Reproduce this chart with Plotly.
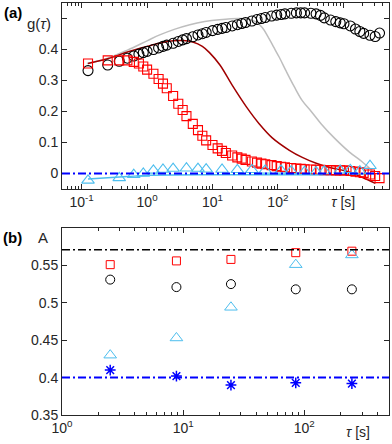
import plotly.graph_objects as go

# ---- panel (a): correlation curves g(tau) ----
tau_a = [0.125, 0.25, 0.375, 0.5, 0.625, 0.75, 0.875, 1, 1.25, 1.5, 1.75, 2, 2.5, 3, 3.5, 4,
         5, 6, 7, 8, 10, 12, 14, 16, 20, 24, 28, 32, 40, 48, 56, 64, 80, 96, 112, 128,
         160, 192, 224, 256, 320, 384, 448, 512, 640, 768, 896, 1024, 1280, 1536, 1792,
         2048, 2560, 3072, 3584]
g_circ = [0.332, 0.350, 0.362, 0.372, 0.379, 0.385, 0.390, 0.394, 0.400, 0.405, 0.410, 0.414,
          0.420, 0.426, 0.431, 0.435, 0.441, 0.447, 0.451, 0.455, 0.461, 0.465, 0.468, 0.471,
          0.476, 0.480, 0.484, 0.487, 0.492, 0.497, 0.500, 0.503, 0.508, 0.511, 0.513, 0.515,
          0.517, 0.518, 0.518, 0.518, 0.517, 0.515, 0.510, 0.502, 0.495, 0.490, 0.486, 0.483,
          0.476, 0.466, 0.458, 0.452, 0.446, 0.442, 0.453]
g_sq = [0.355, 0.365, 0.365, 0.365, 0.360, 0.355, 0.345, 0.335, 0.322, 0.305, 0.290, 0.275,
        0.250, 0.225, 0.205, 0.185, 0.160, 0.140, 0.122, 0.107, 0.092, 0.081, 0.073, 0.066,
        0.058, 0.052, 0.048, 0.044, 0.039, 0.035, 0.032, 0.030, 0.027, 0.024, 0.022, 0.020,
        0.018, 0.016, 0.015, 0.014, 0.013, 0.012, 0.012, 0.011, 0.011, 0.010, 0.010, 0.010,
        0.008, 0.006, 0.004, 0.002, -0.003, -0.008, -0.015]

tau_tri = [0.125, 0.375, 0.625, 0.875, 1.25, 1.75, 2.5, 4, 6, 8, 14, 24, 40, 64, 112, 160,
           256, 384, 512, 896, 1280, 1792, 2560]
g_tri = [-0.022, -0.014, -0.004, 0.0, 0.010, 0.013, 0.016, 0.017, 0.016, 0.014, 0.013, 0.012,
         0.012, 0.010, 0.010, 0.008, 0.006, 0.005, 0.008, 0.010, 0.012, 0.008, 0.025]

tau_fit_red = [0.125, 0.25, 0.5, 1, 1.6, 2.5, 3.5, 5, 7, 9, 13, 20, 33, 52, 82, 150, 236,
               385, 600, 1100, 1940, 3100]
fit_red = [0.355, 0.370, 0.392, 0.410, 0.421, 0.428, 0.429, 0.424, 0.410, 0.390, 0.350,
           0.285, 0.215, 0.160, 0.115, 0.075, 0.052, 0.033, 0.020, 0.008, -0.012, -0.032]

tau_fit_gray = [0.12, 0.25, 0.5, 1.0, 1.56, 2.6, 4.5, 7.6, 12.8, 26, 37, 47, 58, 69, 85, 105,
                134, 178, 236, 324, 460, 727, 1230, 1940, 2760]
fit_gray = [0.355, 0.372, 0.398, 0.428, 0.447, 0.465, 0.480, 0.490, 0.496, 0.500, 0.497,
            0.488, 0.470, 0.445, 0.410, 0.375, 0.330, 0.280, 0.235, 0.200, 0.160, 0.115,
            0.070, 0.038, 0.010]

tau_fit_cyan = [0.125, 0.5, 1, 10, 100, 1000, 3072]
fit_cyan = [-0.018, -0.010, -0.006, -0.004, -0.004, -0.003, 0.0]

g_zero = 0.0

# ---- panel (b): amplitudes A ----
tau_b = [2.5, 8.8, 24.8, 85, 247]
A_sq = [0.551, 0.556, 0.558, 0.567, 0.569]
A_circ = [0.531, 0.521, 0.525, 0.518, 0.518]
A_tri = [0.430, 0.453, 0.494, 0.551, 0.564]
A_star = [0.410, 0.402, 0.390, 0.393, 0.392]
A_top = 0.571
A_low = 0.4

RED = "#FF0000"
DARKRED = "#A00000"
GRAY = "#BEBEBE"
CYAN = "#4DBEEE"
BLUE = "#0000FF"
AX = "#262626"
FONT = "Liberation Sans, Arial, sans-serif"
DASHDOT = "8px,3px,2px,3px"

fig = go.Figure()

# fits
fig.add_trace(go.Scatter(x=tau_fit_gray, y=fit_gray, mode="lines", line=dict(color=GRAY, width=1.5, shape="spline"),
                         xaxis="x", yaxis="y"))
fig.add_trace(go.Scatter(x=tau_fit_red, y=fit_red, mode="lines", line=dict(color=DARKRED, width=1.5, shape="spline"),
                         xaxis="x", yaxis="y"))
fig.add_trace(go.Scatter(x=tau_fit_cyan, y=fit_cyan, mode="lines", line=dict(color=CYAN, width=1.5, shape="spline"),
                         xaxis="x", yaxis="y"))
# data
fig.add_trace(go.Scatter(x=tau_a, y=g_circ, mode="markers",
                         marker=dict(symbol="circle-open", size=10, color="black", line=dict(width=1.1)),
                         xaxis="x", yaxis="y"))
fig.add_trace(go.Scatter(x=tau_a, y=g_sq, mode="markers",
                         marker=dict(symbol="square-open", size=9, color=RED, line=dict(width=1.1)),
                         xaxis="x", yaxis="y"))
fig.add_trace(go.Scatter(x=tau_tri, y=g_tri, mode="markers",
                         marker=dict(symbol="triangle-up-open", size=11, color=CYAN, line=dict(width=1.1)),
                         xaxis="x", yaxis="y"))

# panel b
fig.add_trace(go.Scatter(x=tau_b, y=A_sq, mode="markers",
                         marker=dict(symbol="square-open", size=8, color=RED, line=dict(width=1)),
                         xaxis="x2", yaxis="y2"))
fig.add_trace(go.Scatter(x=tau_b, y=A_circ, mode="markers",
                         marker=dict(symbol="circle-open", size=9, color="black", line=dict(width=1)),
                         xaxis="x2", yaxis="y2"))
fig.add_trace(go.Scatter(x=tau_b, y=A_tri, mode="markers",
                         marker=dict(symbol="triangle-up-open", size=11, color=CYAN, line=dict(width=1)),
                         xaxis="x2", yaxis="y2"))
fig.add_trace(go.Scatter(x=tau_b, y=A_star, mode="markers",
                         marker=dict(symbol="asterisk-open", size=9, color=BLUE, line=dict(width=1.5, color=BLUE)),
                         xaxis="x2", yaxis="y2"))

# horizontal reference lines
fig.add_shape(type="line", xref="x domain", yref="y", x0=0, x1=1, y0=g_zero, y1=g_zero,
              line=dict(color=BLUE, width=2, dash=DASHDOT), layer="above")
fig.add_shape(type="line", xref="x2 domain", yref="y2", x0=0, x1=1, y0=A_top, y1=A_top,
              line=dict(color="black", width=1.5, dash=DASHDOT), layer="above")
fig.add_shape(type="line", xref="x2 domain", yref="y2", x0=0, x1=1, y0=A_low, y1=A_low,
              line=dict(color=BLUE, width=2, dash=DASHDOT), layer="above")

minor_a = [m * 10.0 ** d for d in range(-2, 4) for m in range(2, 10) if 0.05 <= m * 10.0 ** d <= 5000]
minor_b = [m * 10.0 ** d for d in range(0, 3) for m in range(2, 10) if m * 10.0 ** d <= 500]

axis_common = dict(showline=True, linecolor=AX, linewidth=1, mirror="allticks", ticks="inside",
                   ticklen=5, tickcolor=AX, showgrid=False, zeroline=False,
                   tickfont=dict(size=14, color=AX, family=FONT))

fig.update_layout(
    width=392, height=444,
    margin=dict(l=62, r=3, t=3, b=29),
    paper_bgcolor="white", plot_bgcolor="white",
    showlegend=False,
    font=dict(family=FONT, color=AX),
    xaxis=dict(type="log", range=[-1.301, 3.699], domain=[0, 1], anchor="y",
               tickvals=[0.1, 1, 10, 100, 1000],
               ticktext=["10<sup>-1</sup>", "10<sup>0</sup>", "10<sup>1</sup>", "10<sup>2</sup>", "<i>τ</i> [s]"],
               minor=dict(tickvals=minor_a, ticks="inside", ticklen=3, tickcolor=AX, showgrid=False),
               **axis_common),
    yaxis=dict(range=[-0.05, 0.55], domain=[0.5485, 1], anchor="x",
               tickvals=[0, 0.1, 0.2, 0.3, 0.4, 0.5],
               ticktext=["0", "0.1", "0.2", "0.3", "0.4", ""],
               **axis_common),
    xaxis2=dict(type="log", range=[0, 2.699], domain=[0, 1], anchor="y2",
                tickvals=[1, 10, 100],
                ticktext=["10<sup>0</sup>", "10<sup>1</sup>", "10<sup>2</sup>"],
                minor=dict(tickvals=minor_b, ticks="inside", ticklen=3, tickcolor=AX, showgrid=False),
                **axis_common),
    yaxis2=dict(range=[0.35, 0.6], domain=[0, 0.4539], anchor="x2",
                tickvals=[0.35, 0.4, 0.45, 0.5, 0.55, 0.6],
                ticktext=["0.35", "0.4", "0.45", "0.5", "0.55", ""],
                **axis_common),
)

ann = [
    dict(text="<b>(a)</b>", x=-0.151, y=0.977),
    dict(text="<b>(b)</b>", x=-0.151, y=0.430),
]
for a in ann:
    fig.add_annotation(xref="paper", yref="paper", showarrow=False, xanchor="center", yanchor="middle",
                       font=dict(size=15, color="black", family=FONT), **a)
fig.add_annotation(text="g(<i>τ</i>)", xref="paper", yref="paper", x=-0.0275, y=0.950,
                   xanchor="right", yanchor="middle", showarrow=False, font=dict(size=15, color=AX, family=FONT))
fig.add_annotation(text="A", xref="paper", yref="paper", x=-0.0367, y=0.430,
                   xanchor="right", yanchor="middle", showarrow=False, font=dict(size=15, color=AX, family=FONT))
fig.add_annotation(text="<i>τ</i> [s]", xref="paper", yref="paper", x=0.905, y=-0.041,
                   xanchor="center", yanchor="middle", showarrow=False, font=dict(size=14, color=AX, family=FONT))

# drop the default body margin so the figure sits at the window's corner
fig.write_html("out.html", config={"displayModeBar": False},
               post_script="document.body.style.margin='0';")
